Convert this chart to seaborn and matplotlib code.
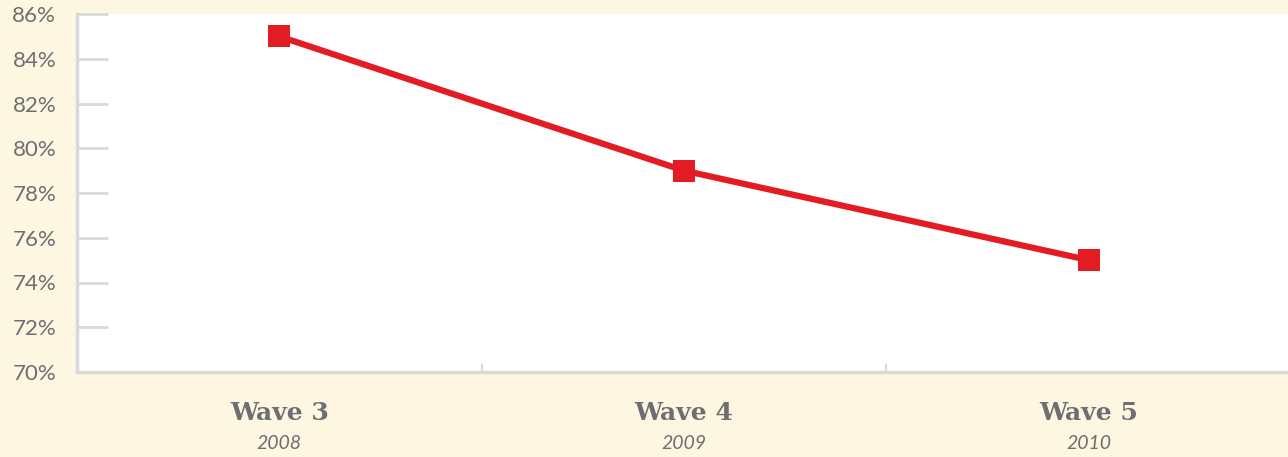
import matplotlib
matplotlib.use('Agg')
import matplotlib.pyplot as plt
import matplotlib.transforms as mtransforms
import seaborn as sns
import pandas as pd

# Data
waves = ['Wave 3', 'Wave 4', 'Wave 5']
years = ['2008', '2009', '2010']
share = [85, 79, 75]
yticks = [70, 72, 74, 76, 78, 80, 82, 84, 86]

bg = '#FDF6E1'
grey = '#6D6E71'
line_grey = '#D9D9DB'
red = '#E31B23'

sns.set_style('white')
plt.rcParams['font.family'] = ['Lato', 'DejaVu Sans']

df = pd.DataFrame({'x': range(len(waves)), 'share': share})

fig = plt.figure(figsize=(12.88, 4.57), dpi=100, facecolor=bg)
ax = fig.add_axes([77 / 1288, 85 / 457, 1214 / 1288, 358 / 457])
ax.set_facecolor('white')

sns.lineplot(data=df, x='x', y='share', ax=ax, color=red, linewidth=4.5,
             marker='s', markersize=16, markeredgewidth=0, zorder=3)

ax.set_xlim(-0.5, 2.5)
ax.set_ylim(70, 86)
ax.set_xlabel('')
ax.set_ylabel('')

# y axis
ax.set_yticks(yticks)
ax.set_yticklabels([f'{v}%' for v in yticks], fontsize=16)
ax.tick_params(axis='y', left=True, direction='in', length=22, width=2,
               color=line_grey, labelcolor=grey, pad=15)
for lab in ax.get_yticklabels():
    lab.set_va('center_baseline')

# x axis: boundary ticks between categories, labels drawn as text
ax.set_xticks([0.5, 1.5])
ax.set_xticklabels([])
ax.tick_params(axis='x', bottom=True, direction='in', length=6, width=1.5,
               color=line_grey)

for s in ['top', 'right']:
    ax.spines[s].set_visible(False)
for s in ['left', 'bottom']:
    ax.spines[s].set_color(line_grey)
    ax.spines[s].set_linewidth(2.5)

trans = mtransforms.blended_transform_factory(ax.transData, ax.transAxes)
for i, (w, yr) in enumerate(zip(waves, years)):
    ax.text(i, -0.115, w, transform=trans, ha='center', va='center',
            fontsize=18, fontweight='bold', color=grey, family=['DejaVu Serif'])
    ax.text(i, -0.20, yr, transform=trans, ha='center', va='center',
            fontsize=14, fontstyle='italic', color=grey)

fig.savefig('out.png', dpi=100, facecolor=bg)
